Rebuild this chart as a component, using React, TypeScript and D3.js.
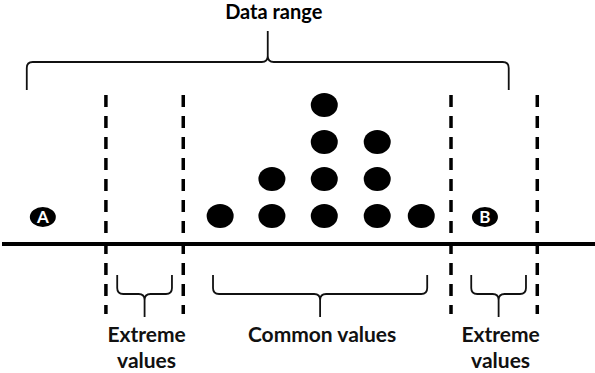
import React, { useRef, useEffect } from 'react';
import * as d3 from 'd3';

// values on an arbitrary 0-100 measurement scale
const commonValues = [37, 45.7, 54.5, 63.4, 70.8];
const commonCounts = [1, 2, 4, 3, 1];
const outlierLabels = ['A', 'B'];
const outlierValues = [7.2, 81.5];
const cutoffValues = [17.8, 30.8, 75.8, 90.3];
const rangeLabel = 'Data range';
const dataRange = [4.5, 85.5];
const groupLabels = [['Extreme', 'values'], ['Common values'], ['Extreme', 'values']];
const groupStarts = [19.7, 35.8, 79.2];
const groupEnds = [28.9, 71.8, 88.4];

const width = 595;
const height = 373;
const font = 'Lato, "Open Sans", sans-serif';

// curly brace: ends at yEnd, bar at yBar, tip at yTip
const bracePath = (x0: number, x1: number, yEnd: number, yBar: number, yTip: number) => {
  const xm = (x0 + x1) / 2;
  const r = 6;
  const e = Math.sign(yEnd - yBar);
  const t = Math.sign(yTip - yBar);
  return [
    `M${x0},${yEnd}`,
    `L${x0},${yBar + e * r}`,
    `Q${x0},${yBar} ${x0 + r},${yBar}`,
    `L${xm - r},${yBar}`,
    `Q${xm},${yBar} ${xm},${yBar + t * r}`,
    `L${xm},${yTip}`,
    `M${xm},${yBar + t * r}`,
    `Q${xm},${yBar} ${xm + r},${yBar}`,
    `L${x1 - r},${yBar}`,
    `Q${x1},${yBar} ${x1},${yBar + e * r}`,
    `L${x1},${yEnd}`,
  ].join(' ');
};

const App = () => {
  const svgRef = useRef<SVGSVGElement>(null);

  useEffect(() => {
    if (!svgRef.current) return;
    const svg = d3.select(svgRef.current);
    svg.selectAll('*').remove();

    const x = d3.scaleLinear().domain([0, 100]).range([0, width]);
    const y = d3.scaleLinear().domain([0, 4]).range([216, 68]);
    const axisY = 244;

    // baseline
    svg.append('line')
      .attr('x1', 2).attr('x2', width)
      .attr('y1', axisY).attr('y2', axisY)
      .attr('stroke', '#000').attr('stroke-width', 4);

    // cutoff dashed lines
    svg.selectAll('.cut')
      .data(cutoffValues)
      .enter()
      .append('line')
      .attr('x1', d => x(d)).attr('x2', d => x(d))
      .attr('y1', 95).attr('y2', 314)
      .attr('stroke', '#000').attr('stroke-width', 3.5)
      .attr('stroke-dasharray', '12,9');

    // stacked dots
    const dots = commonValues.flatMap((v, i) => d3.range(commonCounts[i]).map(k => ({ v, k })));
    svg.selectAll('.dot')
      .data(dots)
      .enter()
      .append('ellipse')
      .attr('cx', d => x(d.v))
      .attr('cy', d => y(d.k))
      .attr('rx', 13.5).attr('ry', 12)
      .attr('fill', '#000');

    // outliers
    const out = svg.selectAll('.out')
      .data(outlierValues)
      .enter()
      .append('g')
      .attr('transform', d => `translate(${x(d)},217)`);
    out.append('ellipse').attr('rx', 13).attr('ry', 10).attr('fill', '#000');
    out.append('text')
      .attr('text-anchor', 'middle').attr('y', 6)
      .attr('fill', '#fff')
      .style('font-family', font).style('font-size', '17px').style('font-weight', 'bold')
      .text((d, i) => outlierLabels[i]);

    // data range brace
    svg.append('path')
      .attr('d', bracePath(x(dataRange[0]), x(dataRange[1]), 90, 62, 31))
      .attr('fill', 'none').attr('stroke', '#111').attr('stroke-width', 1.8);
    svg.append('text')
      .attr('x', x((dataRange[0] + dataRange[1]) / 2) + 6).attr('y', 19)
      .attr('text-anchor', 'middle')
      .style('font-family', font).style('font-size', '20px').style('font-weight', 'bold')
      .text(rangeLabel);

    // group braces + labels
    groupLabels.forEach((lines, i) => {
      const x0 = x(groupStarts[i]);
      const x1 = x(groupEnds[i]);
      svg.append('path')
        .attr('d', bracePath(x0, x1, 275, 294, 317))
        .attr('fill', 'none').attr('stroke', '#111').attr('stroke-width', 1.8);
      const t = svg.append('text')
        .attr('text-anchor', 'middle')
        .style('font-family', font).style('font-size', '21px').style('font-weight', 'bold')
        .attr('fill', '#111');
      lines.forEach((line, j) => {
        t.append('tspan')
          .attr('x', (x0 + x1) / 2 + 2)
          .attr('y', 342 + j * 26)
          .text(line);
      });
    });
  }, []);

  return (
    <div style={{ position: 'absolute', left: 0, top: 0 }}>
      <svg ref={svgRef} width={width} height={height} style={{ display: 'block', background: '#fff' }}></svg>
    </div>
  );
};

export default App;
